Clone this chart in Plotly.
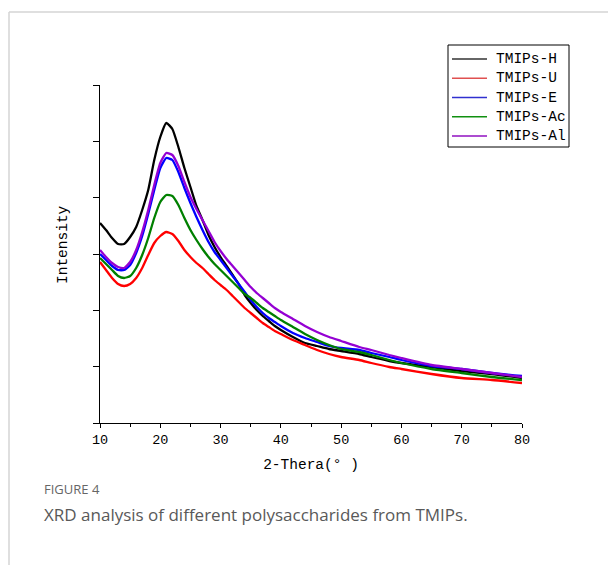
import plotly.graph_objects as go

# ---- data (arbitrary intensity units) ----
two_theta = [10, 11, 12, 13, 14, 15, 16, 17, 18, 19, 20, 21, 22, 23, 24, 25, 26, 27, 28, 29,
             30, 31, 32, 33, 34, 35, 36, 37, 38, 39, 40, 42, 44, 46, 48, 50, 53, 55, 58, 60,
             65, 70, 75, 80]

tmips_h = [2000, 1930, 1850, 1790, 1790, 1860, 1960, 2130, 2330, 2630, 2860, 3000, 2940, 2760,
           2550, 2360, 2170, 2030, 1880, 1760, 1660, 1570, 1480, 1390, 1280, 1200, 1130, 1070,
           1020, 970, 930, 860, 800, 770, 740, 720, 690, 660, 620, 600, 560, 520, 490, 450]

tmips_u = [1610, 1530, 1450, 1390, 1370, 1390, 1450, 1550, 1680, 1800, 1870, 1910, 1890, 1820,
           1730, 1660, 1600, 1550, 1490, 1430, 1380, 1330, 1270, 1210, 1150, 1100, 1050, 1000,
           960, 920, 890, 830, 780, 730, 690, 660, 630, 600, 560, 540, 490, 450, 430, 400]

tmips_e = [1690, 1630, 1570, 1530, 1530, 1580, 1700, 1870, 2090, 2330, 2550, 2650, 2630, 2510,
           2350, 2200, 2060, 1930, 1810, 1710, 1630, 1550, 1470, 1390, 1310, 1230, 1160, 1100,
           1050, 1010, 970, 900, 850, 810, 770, 750, 730, 700, 660, 630, 570, 540, 500, 470]

tmips_ac = [1650, 1590, 1530, 1470, 1450, 1470, 1550, 1680, 1850, 2050, 2210, 2280, 2270, 2180,
            2050, 1930, 1830, 1740, 1660, 1590, 1530, 1470, 1410, 1350, 1290, 1250, 1200, 1150,
            1110, 1070, 1030, 960, 890, 830, 780, 740, 710, 680, 630, 600, 540, 500, 460, 430]

tmips_al = [1730, 1660, 1600, 1560, 1550, 1610, 1730, 1910, 2130, 2380, 2600, 2700, 2680, 2570,
            2410, 2260, 2140, 2030, 1920, 1810, 1720, 1640, 1570, 1500, 1430, 1360, 1300, 1250,
            1200, 1150, 1110, 1040, 970, 910, 860, 820, 760, 730, 680, 650, 580, 540, 500, 460]

series_names = ["TMIPs-H", "TMIPs-U", "TMIPs-E", "TMIPs-Ac", "TMIPs-Al"]
series_values = [tmips_h, tmips_u, tmips_e, tmips_ac, tmips_al]
series_colors = ["#000000", "#ff0000", "#0000ff", "#008000", "#9400d3"]

x_ticks = [10, 20, 30, 40, 50, 60, 70, 80]
y_max = 3380

# ---- layout geometry (page pixels; the page body adds an 8px offset) ----
OFF = 8
W, H = 616, 565
PL, PR, PT, PB = 100, 522, 85, 423          # plot box in page pixels
L, T = PL - OFF, PT - OFF
R, B = W - (PR - OFF), H - (PB - OFF)
pw, ph = PR - PL, PB - PT


def px(x):
    return (x - PL) / pw


def py(y):
    return (PB - y) / ph


mono = "Liberation Mono"

fig = go.Figure()
for name, vals, col in zip(series_names, series_values, series_colors):
    fig.add_trace(go.Scatter(x=two_theta, y=vals, mode="lines", name=name, showlegend=False,
                             line=dict(color=col, width=2.3, shape="spline", smoothing=0.5)))

fig.update_layout(
    width=W, height=H,
    margin=dict(l=L, r=R, t=T, b=B, autoexpand=False),
    paper_bgcolor="white", plot_bgcolor="white",
    font=dict(family=mono, color="black", size=13),
    showlegend=False,
    xaxis=dict(range=[10, 80], tickvals=x_ticks, ticktext=[str(v) for v in x_ticks],
               showgrid=False, zeroline=False, showline=True, linecolor="black", linewidth=1,
               ticks="outside", ticklen=4, tickcolor="black", tickwidth=1,
               minor=dict(dtick=5, tick0=0, ticks="outside", ticklen=3, tickcolor="black"),
               tickfont=dict(family=mono, size=13.5),
               title=dict(text="2-Thera(° )", font=dict(family=mono, size=14.5), standoff=11)),
    yaxis=dict(range=[0, y_max], tick0=0, dtick=y_max / 6, showticklabels=False,
               showgrid=False, zeroline=False, showline=True, linecolor="black", linewidth=1,
               ticks="outside", ticklen=6, tickcolor="black", tickwidth=1),
)

# y-axis title
fig.add_annotation(text="Intensity", xref="paper", yref="paper", x=px(63), y=py(245),
                   textangle=-90, showarrow=False, font=dict(family=mono, size=14.5, color="black"),
                   xanchor="center", yanchor="middle")

# legend box (drawn by hand to match the reference spacing)
leg_x0, leg_x1, leg_y0, leg_y1 = 448, 569, 45, 147
legend_line_colors = ["#333333", "#e05050", "#3030d0", "#109010", "#9010c0"]
fig.add_shape(type="rect", xref="paper", yref="paper", x0=px(leg_x0), x1=px(leg_x1),
              y0=py(leg_y0), y1=py(leg_y1), line=dict(color="black", width=1),
              fillcolor="white", layer="above")
for i, (name, col) in enumerate(zip(series_names, legend_line_colors)):
    yy = 59 + i * 19.25
    fig.add_shape(type="line", xref="paper", yref="paper", x0=px(452), x1=px(487),
                  y0=py(yy), y1=py(yy), line=dict(color=col, width=1.6), layer="above")
    fig.add_annotation(text=name, xref="paper", yref="paper", x=px(494), y=py(yy),
                       showarrow=False, xanchor="left", yanchor="middle",
                       font=dict(family=mono, size=14.5, color="black"))

# figure frame (top and left grey rules)
fig.add_shape(type="line", xref="paper", yref="paper", x0=px(9), x1=px(640), y0=py(12), y1=py(12),
              line=dict(color="#d4d4d4", width=1.5))
fig.add_shape(type="line", xref="paper", yref="paper", x0=px(9), x1=px(9), y0=py(12), y1=py(600),
              line=dict(color="#d4d4d4", width=1.5))

# caption
fig.add_annotation(text="FIGURE 4", xref="paper", yref="paper", x=px(42), y=py(489),
                   showarrow=False, xanchor="left", yanchor="middle",
                   font=dict(family="Open Sans", size=13, color="#666666"))
fig.add_annotation(text="XRD analysis of different polysaccharides from TMIPs.", xref="paper",
                   yref="paper", x=px(42), y=py(514), showarrow=False, xanchor="left",
                   yanchor="middle", font=dict(family="Open Sans", size=17, color="#595959"))

fig.write_html("out.html")
